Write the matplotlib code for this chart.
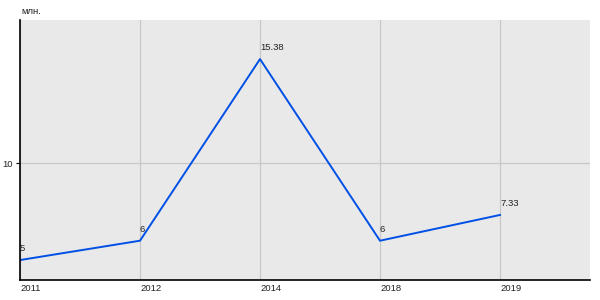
import matplotlib
matplotlib.use('Agg')
import matplotlib.pyplot as plt

years = ['2011', '2012', '2014', '2018', '2019']
values = [5, 6, 15.38, 6, 7.33]
value_labels = ['5', '6', '15.38', '6', '7.33']

plt.rcParams['font.family'] = ['Liberation Sans', 'DejaVu Sans']
fs = 6.8
txt = '#222222'

fig = plt.figure(figsize=(6, 3), dpi=100)
ax = fig.add_axes([20 / 600, 20 / 300, 570 / 600, 260 / 300])
ax.set_facecolor('#e9e9e9')

x = list(range(len(years)))
ax.plot(x, values, color='#0050e6', lw=1.4)

for xi, v, lab in zip(x, values, value_labels):
    ax.annotate(lab, (xi, v), xytext=(0, 5), textcoords='offset points',
                ha='left', va='bottom', fontsize=fs, color=txt)

ax.set_xlim(0, 4.75)
ax.set_ylim(3.97, 17.4)
ax.set_xticks(x)
ax.set_xticklabels(years, ha='left', fontsize=fs, color=txt)
ax.set_yticks([10])
ax.set_yticklabels(['10'], fontsize=fs, color=txt)
ax.tick_params(axis='x', length=0, pad=3)
ax.tick_params(axis='y', length=3, width=0.8, pad=2)
ax.grid(True, color='#c8c8c8', lw=0.9)
ax.set_axisbelow(True)

for side in ['top', 'right']:
    ax.spines[side].set_visible(False)
for side in ['left', 'bottom']:
    ax.spines[side].set_color('black')
    ax.spines[side].set_linewidth(1.2)

fig.text(21 / 600, 1 - 12 / 300, 'млн.', fontsize=fs, color=txt,
         ha='left', va='center')

fig.savefig('out.png', dpi=100)
